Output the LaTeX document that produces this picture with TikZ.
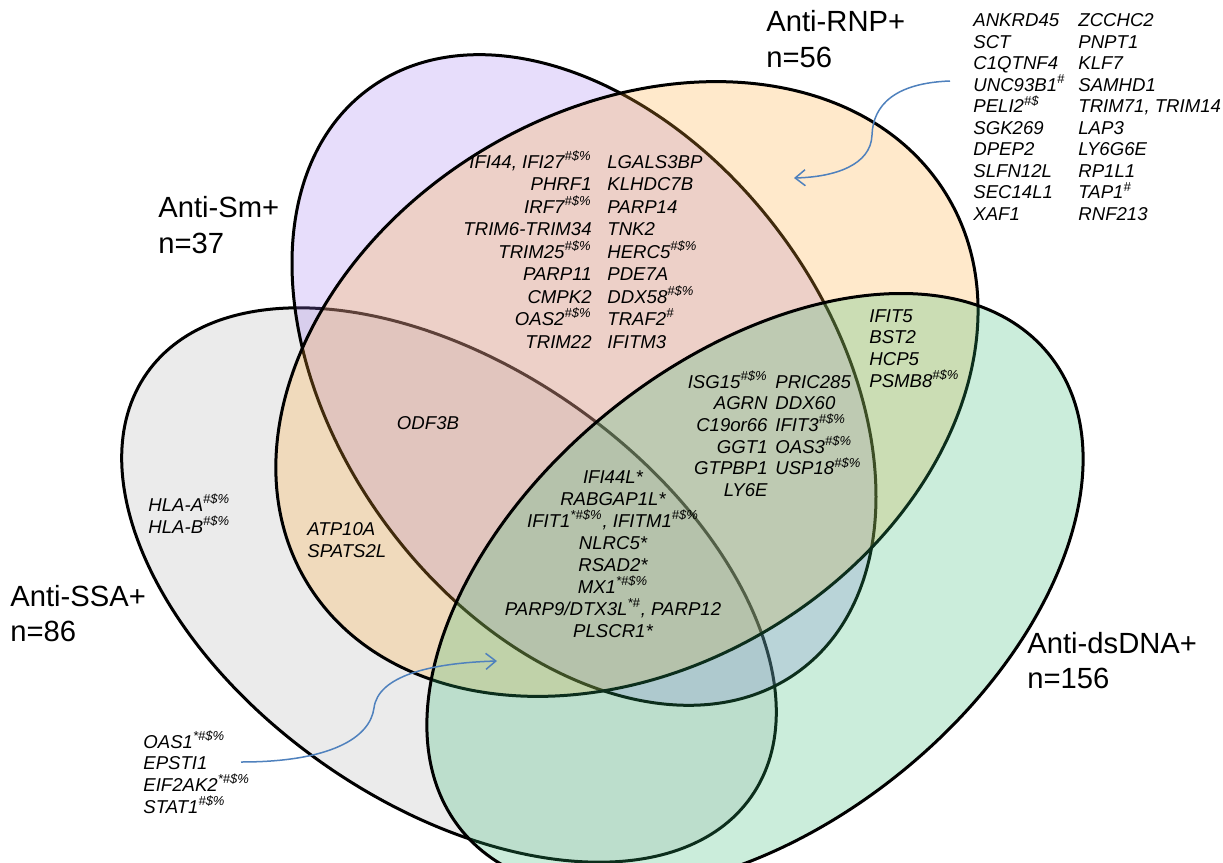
\documentclass[tikz,border=0pt]{standalone}
\usepackage{fontspec}
\setmainfont{Liberation Sans}
\usetikzlibrary{arrows.meta, calc}

\definecolor{ssafill}{RGB}{179,179,179}
\definecolor{smfill}{RGB}{163,123,243}
\definecolor{rnpfill}{RGB}{255,171,51}
\definecolor{dnafill}{RGB}{51,187,115}
\definecolor{pointerblue}{RGB}{79,129,189}

\newcommand{\genemark}[1]{\textsuperscript{#1}}

\tikzset{
    my-set/.style={
        draw=black, line width=1.5pt, fill opacity=0.25
    },
    my-title/.style={
        inner sep=0pt, align=left, font=\fontsize{14.6}{17.75}\selectfont
    },
    my-gene/.style={
        inner sep=0pt, font=\fontsize{9.3}{#1}\selectfont\itshape
    },
    my-gene/.default=10.85,
    my-pointer/.style={
        draw=pointerblue, line width=0.75pt, -{Straight Barb[length=5pt, width=8pt]}
    },
}

\begin{document}
\begin{tikzpicture}[x=0.5pt, y=-0.5pt]

        % CANVAS ---------------------------------------------------------------------------------------
        \useasboundingbox (0,0) rectangle (1223,863);
        \fill[white] (0,0) rectangle (1223,863);
        \clip (0,0) rectangle (1223,863);

        % SET CENTRES
        \coordinate (SSA) at (449,585);
        \coordinate (SM)  at (584,380);
        \coordinate (RNP) at (627,389);
        \coordinate (DNA) at (755,592);

        % ELLIPSES - LATER FILLS TINT THE EARLIER OUTLINES
        \draw[my-set, fill=ssafill, rotate around={-35:(SSA)}]  (SSA) ellipse [x radius=184.5pt, y radius=109.25pt];
        \draw[my-set, fill=smfill,  rotate around={-53.4:(SM)}] (SM)  ellipse [x radius=181pt,   y radius=122.5pt];
        \draw[my-set, fill=rnpfill, rotate around={31.2:(RNP)}] (RNP) ellipse [x radius=187pt,   y radius=139.5pt];
        \draw[my-set, fill=dnafill, rotate around={39:(DNA)}]   (DNA) ellipse [x radius=189pt,   y radius=116pt];

        % SET LABELS (BASE = BASELINE OF THE LAST LINE) ------------------------------------------------
        \node[my-title, anchor=base west] (RNPLABEL) at (766,67)     {Anti-RNP+\\n=56};
        \node[my-title, anchor=base west] (SMLABEL)  at (158,253)    {Anti-Sm+\\n=37};
        \node[my-title, anchor=base west] (SSALABEL) at (10,641.5)   {Anti-SSA+\\n=86};
        \node[my-title, anchor=base west] (DNALABEL) at (1027,688.5) {Anti-dsDNA+\\n=156};

        % GENES - ANTI-RNP ONLY (LIST OUTSIDE, ARROW IN)
        \node[my-gene=10.75, align=left, anchor=base west] (RNPONLY1) at (973,220.2)
            {ANKRD45\\SCT\\C1QTNF4\\UNC93B1\genemark{\#}\\PELI2\genemark{\#\$}\\SGK269\\DPEP2\\SLFN12L\\SEC14L1\\XAF1};
        \node[my-gene=10.75, align=left, anchor=base west] (RNPONLY2) at ($(RNPONLY1.base west) + (105,0)$)
            {ZCCHC2\\PNPT1\\KLF7\\SAMHD1\\TRIM71, TRIM14\\LAP3\\LY6G6E\\RP1L1\\TAP1\genemark{\#}\\RNF213};

        % GENES - ANTI-SM AND ANTI-RNP
        \node[my-gene=11.25, align=right, anchor=base east] (SMRNP1) at (592,348)
            {IFI44, IFI27\genemark{\#\$\%}\\PHRF1\\IRF7\genemark{\#\$\%}\\TRIM6-TRIM34\\TRIM25\genemark{\#\$\%}\\PARP11\\CMPK2\\OAS2\genemark{\#\$\%}\\TRIM22};
        \node[my-gene=11.25, align=left, anchor=base west] (SMRNP2) at ($(SMRNP1.base east) + (15,0)$)
            {LGALS3BP\\KLHDC7B\\PARP14\\TNK2\\HERC5\genemark{\#\$\%}\\PDE7A\\DDX58\genemark{\#\$\%}\\TRAF2\genemark{\#}\\IFITM3};

        % GENES - ANTI-SM, ANTI-RNP AND ANTI-DSDNA
        \node[my-gene, align=right, anchor=base east] (SMRNPDNA1) at (768,496.5)
            {ISG15\genemark{\#\$\%}\\AGRN\\C19or66\\GGT1\\GTPBP1\\LY6E};
        \node[my-gene, align=left, anchor=base west] (SMRNPDNA2) at ($(SMRNPDNA1.base east) + (7,-21.7)$)
            {PRIC285\\DDX60\\IFIT3\genemark{\#\$\%}\\OAS3\genemark{\#\$\%}\\USP18\genemark{\#\$\%}};

        % GENES - ANTI-RNP AND ANTI-DSDNA
        \node[my-gene, align=left, anchor=base west] (RNPDNA) at (869,387.1)
            {IFIT5\\BST2\\HCP5\\PSMB8\genemark{\#\$\%}};

        % GENES - ALL FOUR
        \node[my-gene=11, align=center, anchor=base] (ALLFOUR) at (613,637)
            {IFI44L*\\RABGAP1L*\\IFIT1\genemark{*\#\$\%}, IFITM1\genemark{\#\$\%}\\NLRC5*\\RSAD2*\\MX1\genemark{*\#\$\%}\\PARP9/DTX3L\genemark{*\#}, PARP12\\PLSCR1*};

        % GENES - ANTI-SSA, ANTI-SM AND ANTI-RNP
        \node[my-gene, anchor=base] (SSASMRNP) at (428,429) {ODF3B};

        % GENES - ANTI-SSA ONLY AND ANTI-SSA WITH ANTI-RNP
        \node[my-gene=11, align=left, anchor=base west] (SSAONLY) at (148,533)
            {HLA-A\genemark{\#\$\%}\\HLA-B\genemark{\#\$\%}};
        \node[my-gene=11, align=left, anchor=base west] (SSARNP) at (307,557)
            {ATP10A\\SPATS2L};

        % GENES - ANTI-SSA, ANTI-RNP AND ANTI-DSDNA (LIST OUTSIDE, ARROW IN)
        \node[my-gene, align=left, anchor=base west] (SSARNPDNA) at (143,813.1)
            {OAS1\genemark{*\#\$\%}\\EPSTI1\\EIF2AK2\genemark{*\#\$\%}\\STAT1\genemark{\#\$\%}};

        % POINTERS -------------------------------------------------------------------------------------
        \coordinate (RNPTAIL) at (950,81);
        \coordinate (RNPTIP)  at (794,178);
        \draw[my-pointer] (RNPTAIL) .. controls (895,83) and (873,105) .. (872,135)
                                    .. controls (871,165) and (835,177) .. (RNPTIP);

        \coordinate (SSATAIL) at (241,762);
        \coordinate (SSATIP)  at (497,661);
        \draw[my-pointer] (SSATAIL) .. controls (330,762) and (370,738) .. (374,708)
                                    .. controls (378,676) and (430,663) .. (SSATIP);

    \end{tikzpicture}
\end{document}
